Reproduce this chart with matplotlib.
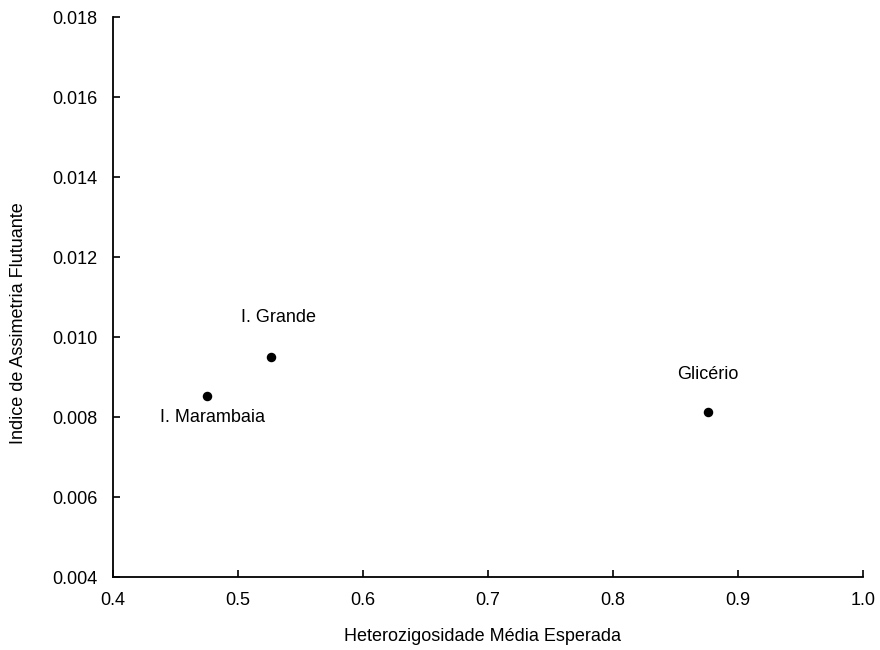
import matplotlib
matplotlib.use("Agg")
import matplotlib.pyplot as plt

plt.rcParams['font.family'] = ['Liberation Sans', 'DejaVu Sans']

# data
sites = ["I. Marambaia", "I. Grande", "Glicério"]
heterozygosity = [0.475, 0.526, 0.876]
fa_index = [0.00853, 0.00950, 0.00813]
# label offsets in pixels (dx, dy)
label_offsets = [(6, -22), (8, 40), (0, 37)]

x_ticks = [0.4, 0.5, 0.6, 0.7, 0.8, 0.9, 1.0]
y_ticks = [0.004, 0.006, 0.008, 0.010, 0.012, 0.014, 0.016, 0.018]

FS = 13

fig = plt.figure(figsize=(8.8, 6.5), dpi=100)
ax = fig.add_axes([113/880, 73/650, 750/880, 560/650])

ax.scatter(heterozygosity, fa_index, s=34, color="black", zorder=3)
for name, x, y, off in zip(sites, heterozygosity, fa_index, label_offsets):
    ax.annotate(name, (x, y), xytext=off, textcoords="offset pixels",
                ha="center", va="center", fontsize=FS)

ax.set_xlim(0.4, 1.0)
ax.set_ylim(0.004, 0.018)
ax.set_xticks(x_ticks)
ax.set_xticklabels([f"{v:.1f}" for v in x_ticks])
ax.set_yticks(y_ticks)
ax.set_yticklabels([f"{v:.3f}" for v in y_ticks])

for s in ["top", "right"]:
    ax.spines[s].set_visible(False)
for s in ["left", "bottom"]:
    ax.spines[s].set_linewidth(1.3)

ax.tick_params(axis="x", direction="in", length=5, width=1.2, labelsize=FS, pad=11)
ax.tick_params(axis="y", direction="in", length=5, width=1.2, labelsize=FS, pad=11)

ax.set_xlabel("Heterozigosidade Média Esperada", fontsize=FS)
ax.set_ylabel("Indice de Assimetria Flutuante", fontsize=FS)
ax.xaxis.set_label_coords(0.493, -0.091)
ax.yaxis.set_label_coords(-0.1147, 0.454)

fig.savefig("out.png", dpi=100)
